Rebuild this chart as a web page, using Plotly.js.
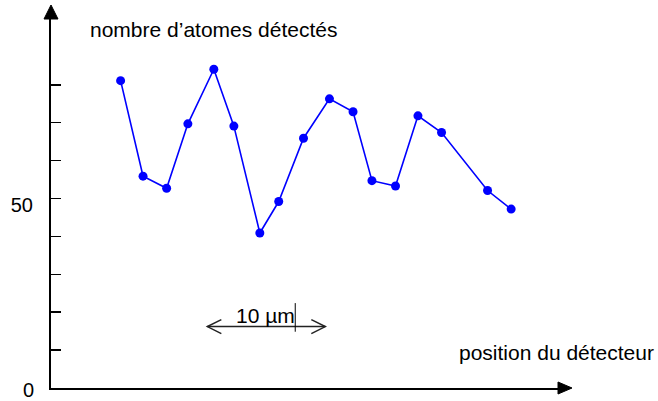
<!DOCTYPE html>
<html>
<head>
<meta charset="utf-8">
<script src="https://cdn.plot.ly/plotly-3.0.1.min.js"></script>
<style>html,body{margin:0;padding:0;background:#fff;}#chart{width:658px;height:401px;}</style>
</head>
<body>
<div id="chart"></div>
<script>
// Data (x in µm, y = nombre d'atomes détectés)
const positions = [5.9, 7.8, 9.8, 11.6, 13.8, 15.5, 17.7, 19.3, 21.4, 23.6, 25.6, 27.2, 29.2, 31.1, 33.1, 37.0, 39.0];
const counts    = [81.1, 55.9, 52.7, 69.7, 84.1, 69.1, 40.9, 49.2, 65.9, 76.3, 72.9, 54.7, 53.3, 71.8, 67.4, 52.1, 47.2];

const yTickVals = [0, 10, 20, 30, 40, 50, 60, 70, 80];
const yTickText = ["", "", "", "", "", "50", "", "", ""];
const originLabel = "0";

const scaleBarX = [13.25, 23.25];   // 10 µm scale bar
const scaleBarY = 16.2;
const scaleBarLabel = "10 µm";
const cursorX = 20.7;
const cursorY = [14.85, 22.4];

const yTitle = "nombre d’atomes détectés";
const xTitle = "position du détecteur";

const xRange = [0, 42.97];
const yRange = [0, 97.36];

const FONT = "Liberation Sans, Arial, sans-serif";

const trace = {
  x: positions, y: counts, type: "scatter", mode: "lines+markers",
  line: {color: "#0000ff", width: 1.6},
  marker: {color: "#0000ff", size: 9},
  hoverinfo: "none"
};

const layout = {
  width: 658, height: 401,
  margin: {l: 51, r: 100, t: 19, b: 13, pad: 0},
  paper_bgcolor: "#fff", plot_bgcolor: "#fff",
  showlegend: false,
  font: {family: FONT, size: 20, color: "#000"},
  xaxis: {
    range: xRange, showgrid: false, zeroline: false, showline: true,
    linecolor: "#000", linewidth: 2, ticks: "", showticklabels: false, fixedrange: true
  },
  yaxis: {
    range: yRange, showgrid: false, zeroline: false, showline: true,
    linecolor: "#000", linewidth: 2, ticks: "inside", ticklen: 10, tickwidth: 1.5, tickcolor: "#000",
    tickmode: "array", tickvals: yTickVals, ticktext: yTickText,
    tickfont: {family: FONT, size: 20, color: "#000"},
    ticklabelshift: 6, ticklabelstandoff: 12, fixedrange: true
  },
  shapes: [
    // y axis arrow head
    {type: "path", xref: "paper", yref: "paper", xsizemode: "pixel", ysizemode: "pixel",
     xanchor: 0, yanchor: 1, path: "M-7,0 L7,0 L0,14 Z", fillcolor: "#000", line: {color: "#000", width: 1}},
    // x axis arrow head
    {type: "path", xref: "paper", yref: "paper", xsizemode: "pixel", ysizemode: "pixel",
     xanchor: 1, yanchor: 0, path: "M0,-6 L0,6 L14,0 Z", fillcolor: "#000", line: {color: "#000", width: 1}},
    // scale bar line
    {type: "line", xref: "x", yref: "y", x0: scaleBarX[0], x1: scaleBarX[1], y0: scaleBarY, y1: scaleBarY,
     line: {color: "#222", width: 1.5}},
    // scale bar chevrons
    {type: "path", xref: "x", yref: "y", xsizemode: "pixel", ysizemode: "pixel",
     xanchor: scaleBarX[0], yanchor: scaleBarY, path: "M14,7 L0,0 L14,-7", line: {color: "#222", width: 1.5}},
    {type: "path", xref: "x", yref: "y", xsizemode: "pixel", ysizemode: "pixel",
     xanchor: scaleBarX[1], yanchor: scaleBarY, path: "M-14,7 L0,0 L-14,-7", line: {color: "#222", width: 1.5}},
    // text cursor mark
    {type: "line", xref: "x", yref: "y", x0: cursorX, x1: cursorX, y0: cursorY[0], y1: cursorY[1],
     line: {color: "#000", width: 1}}
  ],
  annotations: [
    {text: yTitle, xref: "x", yref: "y", x: 3.1, y: 94.5, xanchor: "left", yanchor: "middle",
     showarrow: false, font: {family: FONT, size: 21, color: "#000"}},
    {text: xTitle, xref: "x", yref: "y", x: 34.45, y: 9.3, xanchor: "left", yanchor: "middle",
     showarrow: false, font: {family: FONT, size: 21, color: "#000"}},
    {text: scaleBarLabel, xref: "x", yref: "y", x: 18.18, y: 19.0, xanchor: "center", yanchor: "middle",
     showarrow: false, font: {family: FONT, size: 21, color: "#000"}},
    {text: originLabel, xref: "x", yref: "y", x: 0, y: 0, xanchor: "right", yanchor: "middle",
     xshift: -15, yshift: -2, showarrow: false, font: {family: FONT, size: 20, color: "#000"}}
  ]
};

Plotly.newPlot("chart", [trace], layout, {displayModeBar: false, staticPlot: true});
</script>
</body>
</html>
